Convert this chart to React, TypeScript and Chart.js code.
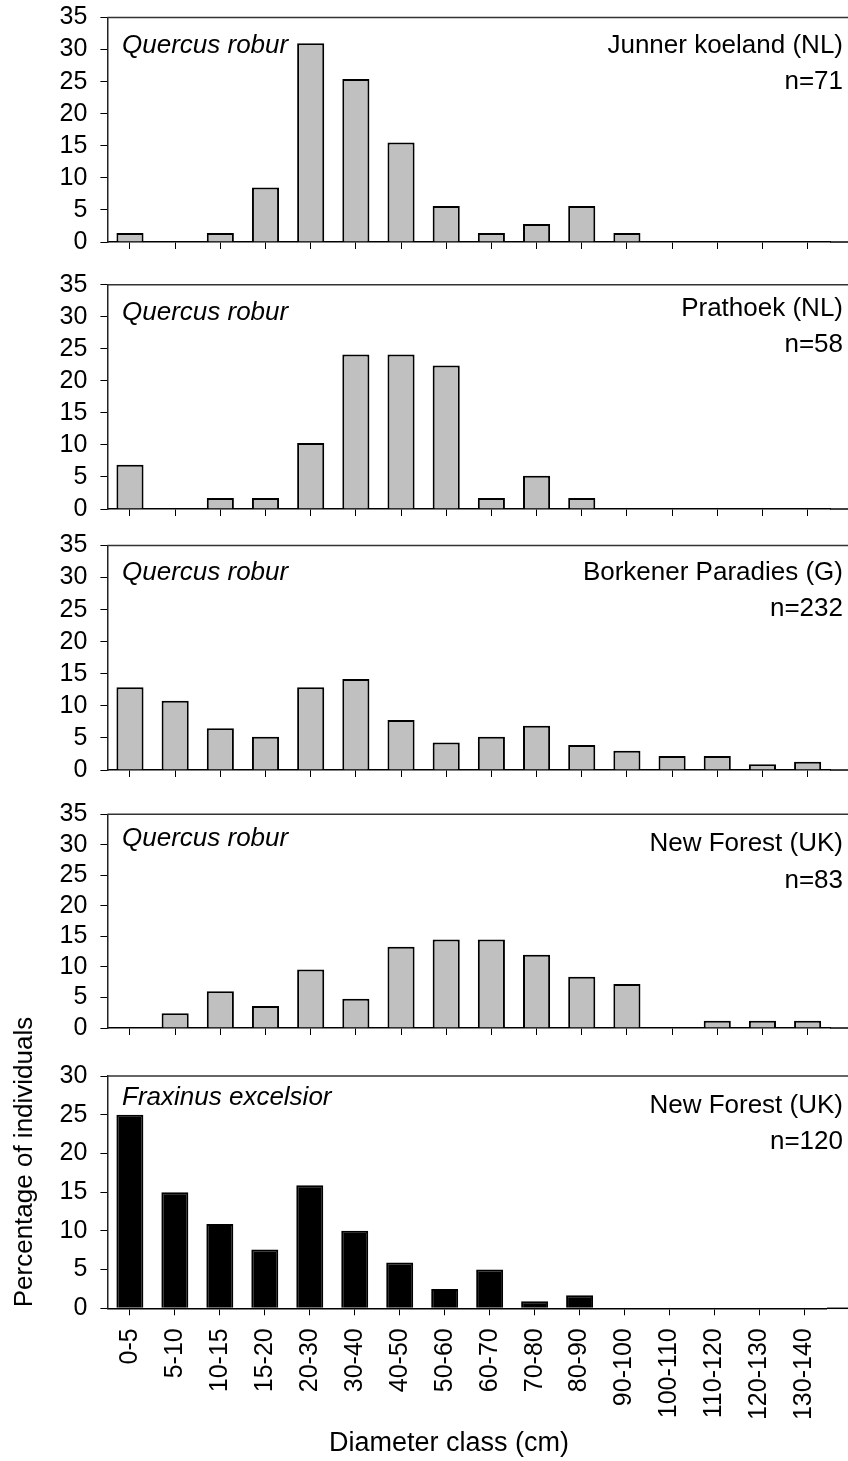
import React, { useEffect, useRef } from "react";
import { Chart, registerables } from "chart.js";

Chart.register(...registerables);

// ---------- DATA ----------
const diameterClasses = [
  "0-5", "5-10", "10-15", "15-20", "20-30", "30-40", "40-50", "50-60",
  "60-70", "70-80", "80-90", "90-100", "100-110", "110-120", "120-130", "130-140",
];

const junnerKoeland = [1.4, 0, 1.4, 8.5, 31.0, 25.4, 15.5, 5.6, 1.4, 2.8, 5.6, 1.4, 0, 0, 0, 0];
const prathoek = [6.9, 0, 1.7, 1.7, 10.3, 24.1, 24.1, 22.4, 1.7, 5.2, 1.7, 0, 0, 0, 0, 0];
const borkenerParadies = [12.9, 10.8, 6.5, 5.2, 12.9, 14.2, 7.8, 4.3, 5.2, 6.9, 3.9, 3.0, 2.2, 2.2, 0.9, 1.3];
const newForestOak = [0, 2.4, 6.0, 3.6, 9.6, 4.8, 13.3, 14.5, 14.5, 12.0, 8.4, 7.2, 0, 1.2, 1.2, 1.2];
const newForestAsh = [25.0, 15.0, 10.9, 7.6, 15.9, 10.0, 5.9, 2.5, 5.0, 0.9, 1.7, 0, 0, 0, 0, 0];

const seriesList = [junnerKoeland, prathoek, borkenerParadies, newForestOak, newForestAsh];
const speciesNames = ["Quercus robur", "Quercus robur", "Quercus robur", "Quercus robur", "Fraxinus excelsior"];
const siteNames = ["Junner koeland (NL)", "Prathoek (NL)", "Borkener Paradies (G)", "New Forest (UK)", "New Forest (UK)"];
const sampleSizes = ["n=71", "n=58", "n=232", "n=83", "n=120"];
const yMaxima = [35, 35, 35, 35, 30];

const yAxisTitle = "Percentage of individuals";
const xAxisTitle = "Diameter class (cm)";

// ---------- LAYOUT / STYLE ----------
const FONT = "'Liberation Sans', Arial, Helvetica, sans-serif";
const W = 848;
const H = 1461;
const PLOT_LEFT = 107.4;
const PLOT_RIGHT = 830.2;

// plot-area top/bottom per panel, and text baselines relative to top
const layout = [
  { top: 17.5, bottom: 249.5, spDy: 35, siteDy: 35, nDy: 71.5 },
  { top: 284.7, bottom: 516.7, spDy: 35, siteDy: 31, nDy: 67 },
  { top: 545.5, bottom: 777.7, spDy: 34, siteDy: 34, nDy: 70.5 },
  { top: 814.3, bottom: 1035.7, spDy: 32, siteDy: 36.4, nDy: 74 },
  { top: 1076, bottom: 1308.3, spDy: 29, siteDy: 36.7, nDy: 73.3 },
];
const fills = ["#c0c0c0", "#c0c0c0", "#c0c0c0", "#c0c0c0", "#000000"];

function Panel({ index }: { index: number }) {
  const ref = useRef<HTMLCanvasElement | null>(null);
  const isLast = index === seriesList.length - 1;
  const L = layout[index];

  let canvasTop: number, canvasHeight: number, padTop: number, padBottom: number, xAxisH: number;
  if (isLast) {
    canvasTop = 900;
    canvasHeight = H - canvasTop;
    padTop = L.top - canvasTop;
    xAxisH = 125;
    padBottom = canvasHeight - (L.bottom - canvasTop) - xAxisH;
  } else {
    canvasTop = Math.round(L.top) - 30;
    padTop = L.top - canvasTop;
    xAxisH = 10;
    canvasHeight = Math.ceil(L.bottom - canvasTop + 20);
    padBottom = canvasHeight - (L.bottom - canvasTop) - xAxisH;
  }

  useEffect(() => {
    if (!ref.current) return;
    const decor = {
      id: "panelDecor",
      afterDraw(chart: any) {
        const { ctx, chartArea } = chart;
        ctx.save();
        // top frame line and baseline extension
        ctx.lineWidth = 1.5;
        ctx.strokeStyle = "#333";
        ctx.beginPath();
        ctx.moveTo(chartArea.left, chartArea.top);
        ctx.lineTo(chart.width, chartArea.top);
        ctx.stroke();
        ctx.strokeStyle = "#000";
        ctx.beginPath();
        ctx.moveTo(chartArea.right, chartArea.bottom);
        ctx.lineTo(chart.width, chartArea.bottom);
        ctx.stroke();

        ctx.fillStyle = "#000";
        ctx.textBaseline = "alphabetic";
        ctx.font = `italic 26px ${FONT}`;
        ctx.textAlign = "left";
        ctx.fillText(speciesNames[index], 122, chartArea.top + L.spDy);
        ctx.font = `26px ${FONT}`;
        ctx.textAlign = "right";
        ctx.fillText(siteNames[index], 843, chartArea.top + L.siteDy);
        ctx.fillText(sampleSizes[index], 843, chartArea.top + L.nDy);

        if (isLast) {
          // x axis title
          ctx.textAlign = "center";
          ctx.font = `27px ${FONT}`;
          ctx.fillText(xAxisTitle, 449, 1451 - canvasTop);
          // y axis title (spans panels)
          ctx.font = `26px ${FONT}`;
          ctx.save();
          ctx.translate(31.5, 1162 - canvasTop);
          ctx.rotate(-Math.PI / 2);
          ctx.textAlign = "center";
          ctx.textBaseline = "alphabetic";
          ctx.fillText(yAxisTitle, 0, 0);
          ctx.restore();
        }
        ctx.restore();
      },
    };

    const chart = new Chart(ref.current, {
      type: "bar",
      data: {
        labels: diameterClasses,
        datasets: [
          {
            data: seriesList[index],
            backgroundColor: fills[index],
            borderColor: "#000",
            borderWidth: 2,
            barPercentage: 0.6,
            categoryPercentage: 1,
          },
        ],
      },
      options: {
        responsive: false,
        maintainAspectRatio: false,
        animation: false,
        layout: {
          padding: { top: padTop, bottom: padBottom, left: 0, right: W - PLOT_RIGHT },
        },
        plugins: {
          legend: { display: false },
          tooltip: { enabled: false },
          title: { display: false },
        },
        scales: {
          x: {
            type: "category",
            offset: true,
            grid: {
              display: true,
              drawOnChartArea: false,
              drawTicks: true,
              tickLength: 7,
              offset: false,
              color: "#000",
              lineWidth: 1,
            },
            border: { display: true, color: "#000", width: 1.5 },
            ticks: {
              display: isLast,
              autoSkip: false,
              maxRotation: 90,
              minRotation: 90,
              padding: 13,
              color: "#000",
              font: { family: FONT, size: 25 },
            },
            afterFit: (scale: any) => {
              scale.height = xAxisH;
            },
          },
          y: {
            type: "linear",
            min: 0,
            max: yMaxima[index],
            grid: {
              display: true,
              drawOnChartArea: false,
              drawTicks: true,
              tickLength: 7,
              color: "#000",
              lineWidth: 1,
            },
            border: { display: true, color: "#222", width: 1.5 },
            ticks: {
              stepSize: 5,
              padding: 13,
              color: "#000",
              font: { family: FONT, size: 25 },
            },
            afterFit: (scale: any) => {
              scale.width = PLOT_LEFT;
            },
          },
        },
      },
      plugins: [decor],
    } as any);
    return () => chart.destroy();
  }, [index]);

  return (
    <canvas
      ref={ref}
      width={W}
      height={canvasHeight}
      style={{ position: "absolute", left: 0, top: canvasTop, width: W, height: canvasHeight }}
    />
  );
}

export default function App() {
  return (
    <div
      style={{
        position: "absolute",
        left: 0,
        top: 0,
        width: W,
        height: H,
        background: "#fff",
        overflow: "hidden",
      }}
    >
      {seriesList.map((_, i) => (
        <Panel key={i} index={i} />
      ))}
    </div>
  );
}
